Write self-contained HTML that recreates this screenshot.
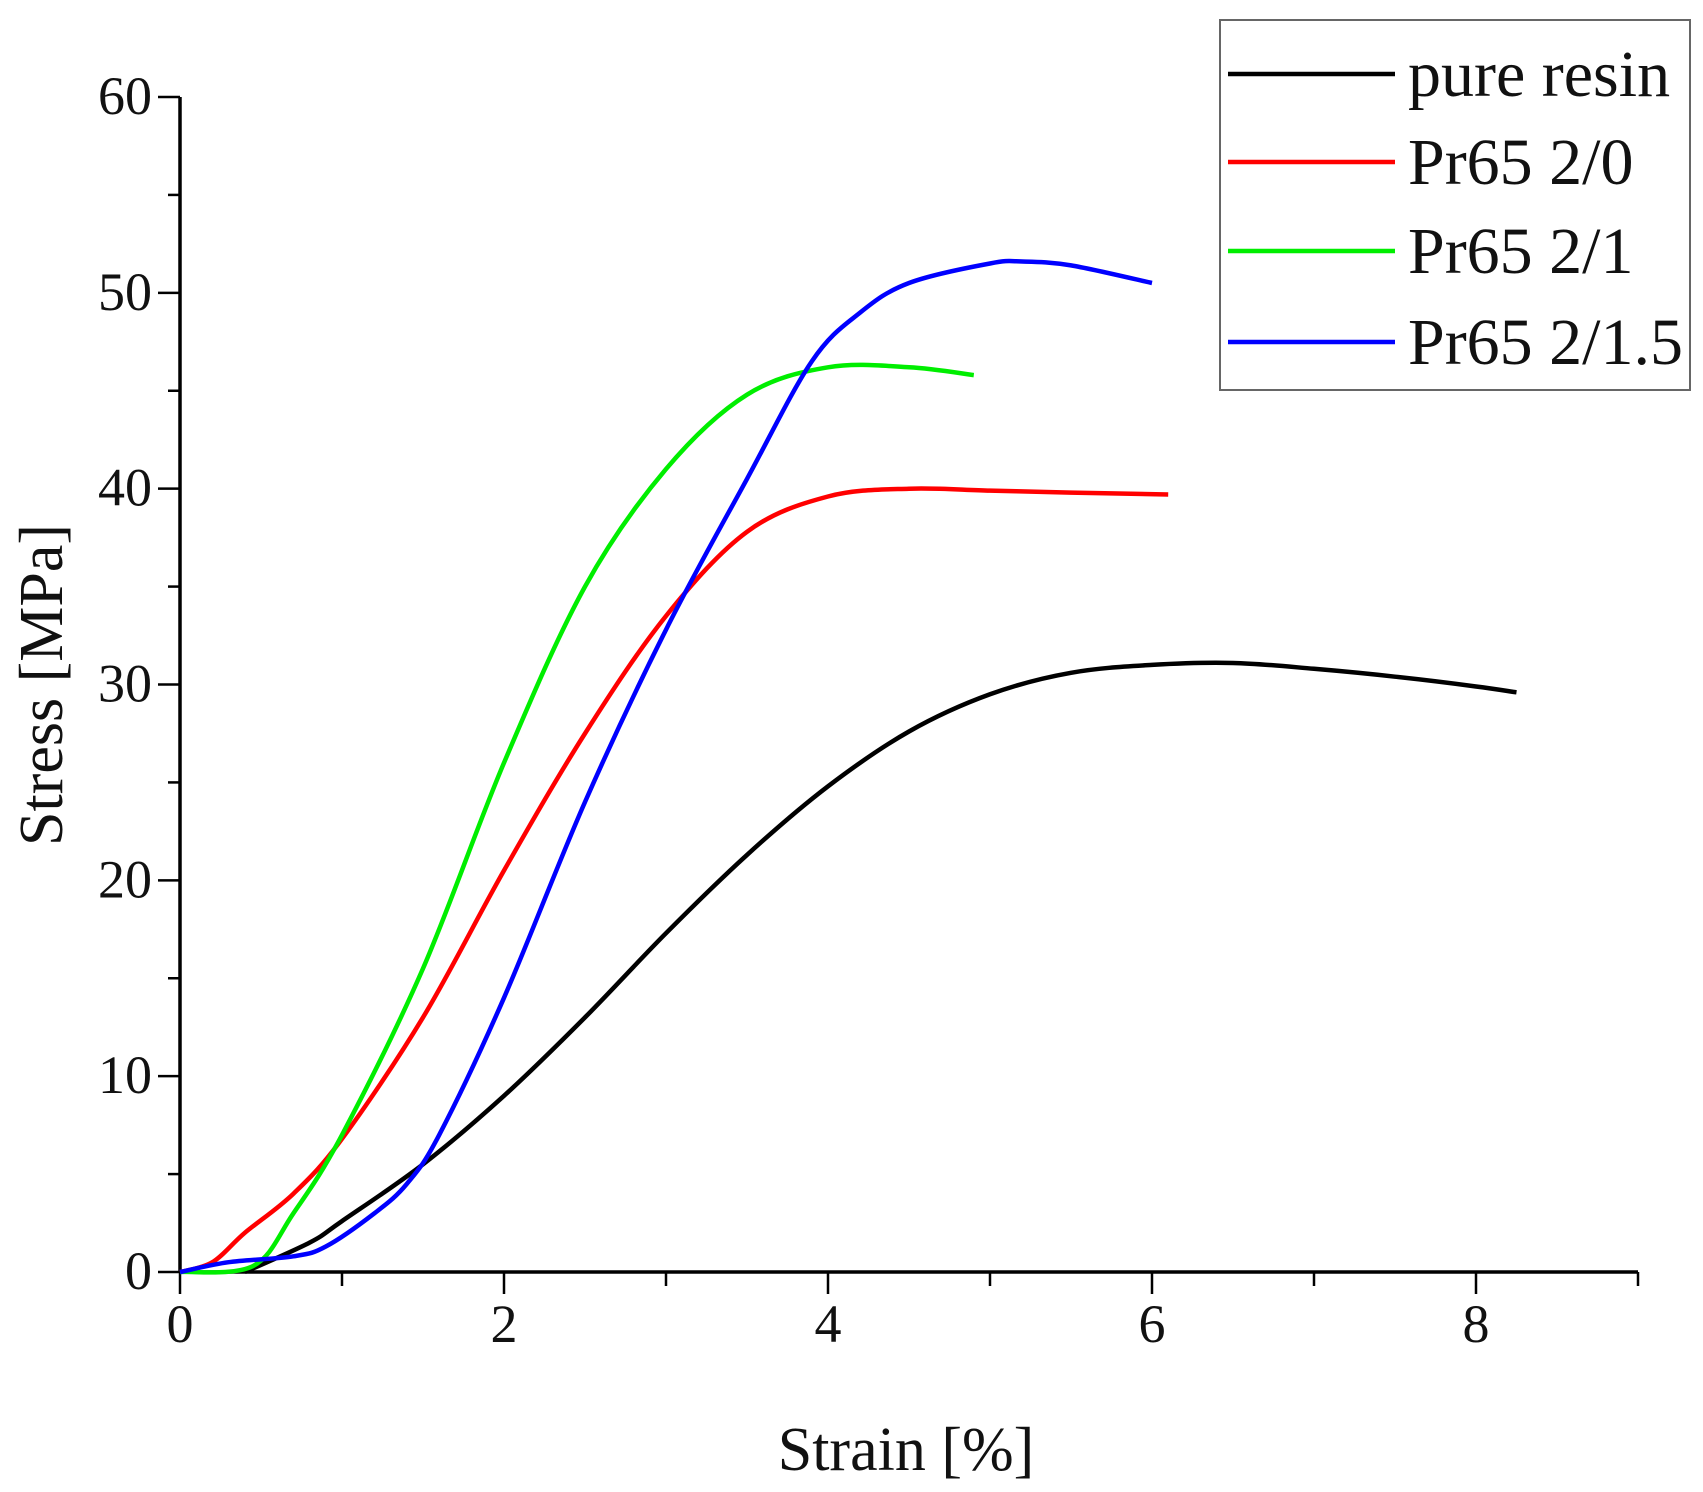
<!DOCTYPE html>
<html><head><meta charset="utf-8"><style>
body{margin:0;background:#fff;}
svg text{font-family:"Liberation Serif",serif;fill:#111;}
</style></head><body>
<svg id="chart" width="1703" height="1487" viewBox="0 0 1703 1487" xmlns="http://www.w3.org/2000/svg">
<g id="plot"></g>
<g id="legend"></g>
<text x="0" y="0" transform="translate(62,685) rotate(-90)" text-anchor="middle" font-size="62">Stress [MPa]</text>
<text x="906" y="1470" text-anchor="middle" font-size="62">Strain [%]</text>
</svg>
<script>
const seriesNames = ["pure resin","Pr65 2/0","Pr65 2/1","Pr65 2/1.5"];
const seriesColors = ["#000000","#ff0000","#00ee00","#0000ff"];
const resinX = [0.4,0.8,1,1.5,2,2.5,3,3.5,4,4.5,5,5.5,6,6.5,7,7.5,8,8.25];
const resinY = [0,1.5,2.6,5.5,9,13,17.3,21.3,24.8,27.6,29.5,30.6,31,31.1,30.8,30.4,29.9,29.6];
const r20X = [0,0.2,0.4,0.7,1,1.5,2,2.5,3,3.5,4,4.5,5,5.5,6.1];
const r20Y = [0,0.5,2,4,6.8,13,20.5,27.5,33.5,37.8,39.6,40,39.9,39.8,39.7];
const r21X = [0,0.45,0.7,1,1.5,2,2.5,3,3.5,4,4.5,4.9];
const r21Y = [0,0.3,3,7,15.5,26,35,41,44.8,46.2,46.2,45.8];
const r215X = [0,0.3,0.7,0.9,1.2,1.4,1.6,2,2.5,3,3.5,3.9,4.2,4.5,5,5.2,5.5,6];
const r215Y = [0,0.5,0.8,1.3,3,4.5,7,14,24,32.8,40.5,46.5,49,50.5,51.5,51.6,51.4,50.5];
const xTicks = [0,2,4,6,8];
const yTicks = [0,10,20,30,40,50,60];
const X0=180, X8=1476, Y0=1272, Y60=97;
const sx = v => X0 + v*(X8-X0)/8;
const sy = v => Y0 - v*(Y0-Y60)/60;
const NS="http://www.w3.org/2000/svg";
const plot=document.getElementById('plot');
function mk(tag,attrs,parent){const e=document.createElementNS(NS,tag);for(const k in attrs)e.setAttribute(k,attrs[k]);parent.appendChild(e);return e;}
let ax=mk('line',{x1:X0,y1:Y0,x2:sx(9),y2:Y0,stroke:'#000','stroke-width':3.5},plot);


let ay=mk('line',{x1:X0,y1:Y0,x2:X0,y2:sy(60),stroke:'#000','stroke-width':3.5},plot);


for(let v=0;v<=9;v++){
  const major=v%2===0;
  const t=mk('line',{x1:sx(v),y1:Y0,x2:sx(v),y2:Y0+(major?22:14),stroke:'#000','stroke-width':2.5},plot);
  
  
}
xTicks.forEach(v=>{
  const t=mk('text',{x:sx(v),y:Y0+70,'text-anchor':'middle','font-size':54},plot);t.textContent=v;
  
  
});
for(let v=0;v<=60;v+=5){
  const major=v%10===0;
  const t=mk('line',{x1:X0,y1:sy(v),x2:X0-(major?22:12),y2:sy(v),stroke:'#000','stroke-width':2.5},plot);
  
  
}
yTicks.forEach(v=>{
  const t=mk('text',{x:X0-28,y:sy(v)+17,'text-anchor':'end','font-size':54},plot);t.textContent=v;
  
  
});
const allX=[resinX,r20X,r21X,r215X], allY=[resinY,r20Y,r21Y,r215Y];
const keys=['pure-resin','pr65-2-0','pr65-2-1','pr65-2-1-5'];
function smoothPath(xs,ys){
  const P=xs.map((x,j)=>[sx(x),sy(ys[j])]);
  let d='M'+P[0][0].toFixed(1)+','+P[0][1].toFixed(1);
  for(let j=0;j<P.length-1;j++){
    const p0=P[j-1]||P[j],p1=P[j],p2=P[j+1],p3=P[j+2]||P[j+1];
    const c1=[p1[0]+(p2[0]-p0[0])/6,p1[1]+(p2[1]-p0[1])/6];
    const c2=[p2[0]-(p3[0]-p1[0])/6,p2[1]-(p3[1]-p1[1])/6];
    d+=' C'+c1.map(n=>n.toFixed(1)).join(',')+' '+c2.map(n=>n.toFixed(1)).join(',')+' '+p2.map(n=>n.toFixed(1)).join(',');
  }
  return d;
}
for(let i=0;i<4;i++){
  const p=mk('path',{d:smoothPath(allX[i],allY[i]),fill:'none',stroke:seriesColors[i],'stroke-width':4.5,'stroke-linejoin':'round'},plot);
  
  
}
const lg=document.getElementById('legend');
const box=mk('rect',{x:1220,y:20,width:470,height:370,fill:'#fff',stroke:'#666','stroke-width':2},lg);


const rowY=[74,162,251,342];
for(let i=0;i<4;i++){
  const g=mk('g',{},lg);
  
  
  mk('line',{x1:1228,y1:rowY[i],x2:1395,y2:rowY[i],stroke:seriesColors[i],'stroke-width':4.5},g);
  const t=mk('text',{x:1408,y:rowY[i]+22,'font-size':66},g);t.textContent=seriesNames[i];
}
</script>
</body></html>
